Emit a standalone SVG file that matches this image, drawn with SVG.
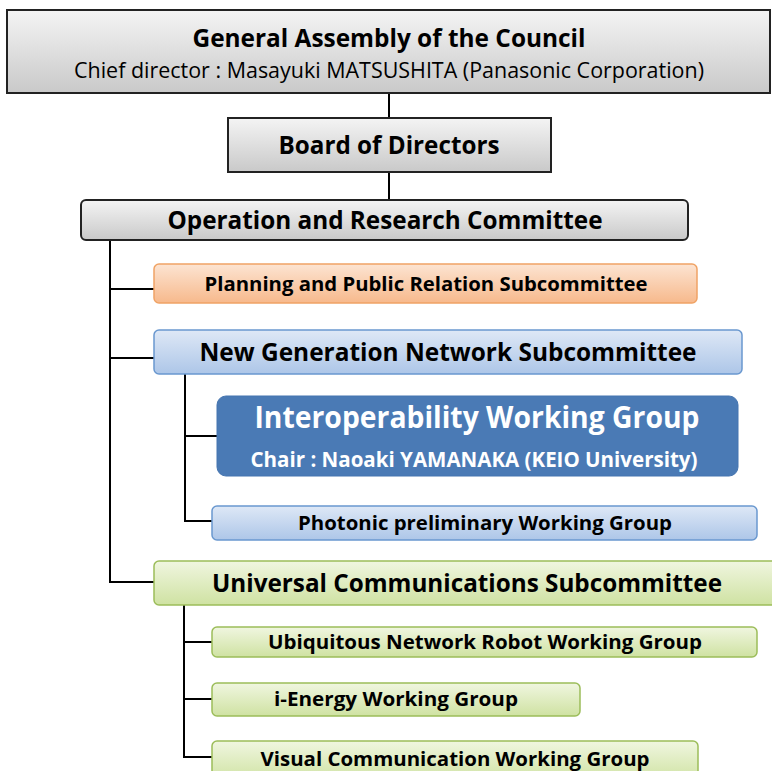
<svg xmlns="http://www.w3.org/2000/svg" width="772" height="771" viewBox="0 0 772 771">
<defs>
<linearGradient id="gGrey" x1="0" y1="0" x2="0" y2="1"><stop offset="0" stop-color="#f4f4f4"/><stop offset="1" stop-color="#c9c9c9"/></linearGradient>
<linearGradient id="gOrange" x1="0" y1="0" x2="0" y2="1"><stop offset="0" stop-color="#fce4d2"/><stop offset="1" stop-color="#f7b98c"/></linearGradient>
<linearGradient id="gBlue" x1="0" y1="0" x2="0" y2="1"><stop offset="0" stop-color="#dee8f6"/><stop offset="1" stop-color="#adc6e8"/></linearGradient>
<linearGradient id="gGreen" x1="0" y1="0" x2="0" y2="1"><stop offset="0" stop-color="#f0f6e0"/><stop offset="1" stop-color="#cfe2a2"/></linearGradient>
<style>
.t{font-family:"Open Sans","Noto Sans","Liberation Sans",sans-serif;font-weight:bold;fill:#000;text-anchor:middle}
.r{font-weight:normal}
.w{fill:#fff}
.grey{fill:url(#gGrey);stroke:#222;stroke-width:2}
.orange{fill:url(#gOrange);stroke:#f0a365;stroke-width:1.5}
.blue{fill:url(#gBlue);stroke:#6a98cf;stroke-width:1.5}
.green{fill:url(#gGreen);stroke:#9cbd5a;stroke-width:1.5}
.dark{fill:#4a7ab5;stroke:#4575b0;stroke-width:1}
.c{fill:none;stroke:#000;stroke-width:2}
</style>
</defs>
<g id="connectors">
<line class="c" x1="389" y1="93" x2="389" y2="118"/>
<line class="c" x1="389" y1="172" x2="389" y2="200"/>
<polyline class="c" points="110,240 110,582 154,582"/>
<line class="c" x1="110" y1="289" x2="154" y2="289"/>
<line class="c" x1="110" y1="358" x2="154" y2="358"/>
<polyline class="c" points="185,374 185,521 212,521"/>
<line class="c" x1="185" y1="436" x2="217" y2="436"/>
<polyline class="c" points="184,605 184,757 212,757"/>
<line class="c" x1="184" y1="642" x2="212" y2="642"/>
<line class="c" x1="184" y1="699" x2="212" y2="699"/>
</g>
<g id="general-assembly">
<rect class="grey" x="7" y="10" width="763" height="83"/>
<text class="t" x="389" y="47" font-size="25" textLength="393" lengthAdjust="spacingAndGlyphs">General Assembly of the Council</text>
<text class="t r" x="389" y="78" font-size="21" textLength="630" lengthAdjust="spacingAndGlyphs">Chief director : Masayuki MATSUSHITA (Panasonic Corporation)</text>
</g>
<g id="board">
<rect class="grey" x="228" y="118" width="323" height="54"/>
<text class="t" x="389" y="154" font-size="25" textLength="221" lengthAdjust="spacingAndGlyphs">Board of Directors</text>
</g>
<g id="operation">
<rect class="grey" x="81" y="200" width="607" height="40" rx="5"/>
<text class="t" x="385" y="229" font-size="25" textLength="435" lengthAdjust="spacingAndGlyphs">Operation and Research Committee</text>
</g>
<g id="planning">
<rect class="orange" x="154" y="264" width="543" height="39" rx="5"/>
<text class="t" x="426" y="291" font-size="20" textLength="443" lengthAdjust="spacingAndGlyphs">Planning and Public Relation Subcommittee</text>
</g>
<g id="ngn">
<rect class="blue" x="154" y="330" width="588" height="44" rx="5"/>
<text class="t" x="448" y="361" font-size="25" textLength="497" lengthAdjust="spacingAndGlyphs">New Generation Network Subcommittee</text>
</g>
<g id="interop">
<rect class="dark" x="217" y="396" width="521" height="80" rx="9"/>
<text class="t w" x="477" y="428" font-size="31" textLength="445" lengthAdjust="spacingAndGlyphs">Interoperability Working Group</text>
<text class="t w" x="474" y="467" font-size="21" textLength="447" lengthAdjust="spacingAndGlyphs">Chair : Naoaki YAMANAKA (KEIO University)</text>
</g>
<g id="photonic">
<rect class="blue" x="212" y="506" width="545" height="34" rx="5"/>
<text class="t" x="485" y="530" font-size="20" textLength="374" lengthAdjust="spacingAndGlyphs">Photonic preliminary Working Group</text>
</g>
<g id="universal">
<rect class="green" x="154" y="561" width="630" height="44" rx="5"/>
<text class="t" x="467" y="592" font-size="25" textLength="510" lengthAdjust="spacingAndGlyphs">Universal Communications Subcommittee</text>
</g>
<g id="ubiquitous">
<rect class="green" x="212" y="627" width="545" height="30" rx="5"/>
<text class="t" x="485" y="649" font-size="20" textLength="434" lengthAdjust="spacingAndGlyphs">Ubiquitous Network Robot Working Group</text>
</g>
<g id="ienergy">
<rect class="green" x="212" y="683" width="368" height="33" rx="5"/>
<text class="t" x="396" y="706" font-size="20" textLength="244" lengthAdjust="spacingAndGlyphs">i-Energy Working Group</text>
</g>
<g id="visual">
<rect class="green" x="212" y="741" width="486" height="40" rx="5"/>
<text class="t" x="455" y="766" font-size="20" textLength="389" lengthAdjust="spacingAndGlyphs">Visual Communication Working Group</text>
</g>
</svg>
